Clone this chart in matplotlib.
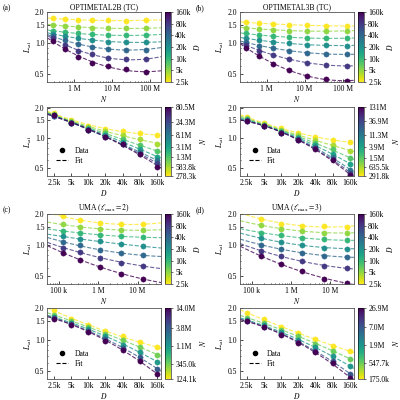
import numpy as np
import matplotlib
matplotlib.use("Agg")
import matplotlib.pyplot as plt
from matplotlib.colors import LogNorm
from matplotlib.ticker import FixedLocator, NullLocator, NullFormatter
from matplotlib.lines import Line2D
import matplotlib.cm as cm

plt.rcParams['font.family'] = ['Liberation Serif', 'DejaVu Serif']
plt.rcParams['mathtext.fontset'] = 'stix'
plt.rcParams['font.size'] = 5.5

D_vals = [2500, 5000, 10000, 20000, 40000, 80000, 160000]
D_labels = ["2.5k", "5k", "10k", "20k", "40k", "80k", "160k"]

# panel (a)
N_a = [278.3e3, 583.8e3, 1.3e6, 3.1e6, 8.1e6, 24.3e6, 80.5e6]
N_a_labels = ["278.3k", "583.8k", "1.3M", "3.1M", "8.1M", "24.3M", "80.5M"]
L_a = [  # rows: D, cols: N
    [1.75, 1.72, 1.70, 1.68, 1.67, 1.66, 1.68],
    [1.52, 1.47, 1.44, 1.42, 1.41, 1.40, 1.40],
    [1.33, 1.28, 1.25, 1.22, 1.20, 1.20, 1.20],
    [1.24, 1.17, 1.12, 1.08, 1.04, 1.03, 1.02],
    [1.17, 1.07, 0.98, 0.92, 0.88, 0.87, 0.87],
    [1.12, 0.97, 0.85, 0.78, 0.72, 0.70, 0.70],
    [1.06, 0.88, 0.74, 0.65, 0.60, 0.56, 0.52],
]
# panel (b)
N_b = [291.8e3, 635.5e3, 1.5e6, 3.9e6, 11.3e6, 36.9e6, 131e6]
N_b_labels = ["291.8k", "635.5k", "1.5M", "3.9M", "11.3M", "36.9M", "131M"]
L_b = [
    [1.60, 1.57, 1.55, 1.52, 1.50, 1.48, 1.48],
    [1.42, 1.38, 1.35, 1.33, 1.32, 1.32, 1.32],
    [1.25, 1.20, 1.17, 1.15, 1.13, 1.12, 1.12],
    [1.12, 1.07, 1.03, 1.00, 0.97, 0.96, 0.95],
    [1.02, 0.95, 0.90, 0.85, 0.81, 0.79, 0.78],
    [0.96, 0.85, 0.77, 0.70, 0.65, 0.62, 0.60],
    [0.91, 0.75, 0.63, 0.55, 0.48, 0.45, 0.43],
]
# panel (c)
N_c = [124.1e3, 345.0e3, 1.1e6, 3.8e6, 14.0e6]
N_c_labels = ["124.1k", "345.0k", "1.1M", "3.8M", "14.0M"]
L_c = [
    [1.92, 1.75, 1.65, 1.62, 1.60],
    [1.60, 1.50, 1.45, 1.42, 1.40],
    [1.38, 1.32, 1.27, 1.22, 1.20],
    [1.22, 1.15, 1.10, 1.02, 0.98],
    [1.08, 1.00, 0.90, 0.84, 0.80],
    [0.95, 0.86, 0.76, 0.68, 0.63],
    [0.85, 0.72, 0.62, 0.53, 0.47],
]
# panel (d)
N_d = [175.0e3, 547.7e3, 1.9e6, 7.0e6, 26.9e6]
N_d_labels = ["175.0k", "547.7k", "1.9M", "7.0M", "26.9M"]
L_d = [
    [1.82, 1.63, 1.55, 1.53, 1.52],
    [1.57, 1.45, 1.38, 1.33, 1.32],
    [1.33, 1.25, 1.18, 1.14, 1.12],
    [1.17, 1.08, 1.00, 0.95, 0.93],
    [1.01, 0.92, 0.85, 0.79, 0.77],
    [0.88, 0.79, 0.70, 0.63, 0.60],
    [0.78, 0.66, 0.56, 0.47, 0.43],
]

panels = [
    ("(a)", "OPTIMETAL2B (TC)", N_a, N_a_labels, L_a, (2e5, 2e8), [1e6, 1e7, 1e8], ["1 M", "10 M", "100 M"]),
    ("(b)", "OPTIMETAL3B (TC)", N_b, N_b_labels, L_b, (2e5, 2e8), [1e6, 1e7, 1e8], ["1 M", "10 M", "100 M"]),
    ("(c)", r"UMA ($\ell_{\max}=2$)", N_c, N_c_labels, L_c, (5e4, 4e7), [1e5, 1e6, 1e7], ["100 k", "1 M", "10 M"]),
    ("(d)", r"UMA ($\ell_{\max}=3$)", N_d, N_d_labels, L_d, (5e4, 4e7), [1e5, 1e6, 1e7], ["100 k", "1 M", "10 M"]),
]

fig = plt.figure(figsize=(4, 4), dpi=100)
cmap = plt.get_cmap('viridis_r')
xs = [0.118, 0.6]
W = 0.285
rows = [(0.795, 0.175, 0.56, 0.172), (0.29, 0.175, 0.052, 0.178)]
yticks = [0.5, 1.0, 1.5, 2.0]


def style_y(ax):
    ax.set_yscale('log')
    ax.set_ylim(0.42, 2.02)
    ax.yaxis.set_major_locator(FixedLocator(yticks))
    ax.set_yticklabels(["0.5", "1.0", "1.5", "2.0"])
    ax.yaxis.set_minor_formatter(NullFormatter())
    ax.set_ylabel(r"$L_{\rm val}$", labelpad=1)
    ax.tick_params(which='both', direction='in', length=2, width=0.5, pad=2)
    ax.tick_params(which='minor', length=1)
    for s in ax.spines.values():
        s.set_linewidth(0.6)
        s.set_color('#555555')


def plot_curves(ax, xvals, curves, cvals, norm, xlim):
    xf = np.logspace(np.log10(xlim[0]), np.log10(xlim[1]), 100)
    for c, y in zip(cvals, curves):
        col = cmap(norm(c))
        y = np.asarray(y)
        p = np.polyfit(np.log(xvals), np.log(y), 2)
        ax.plot(xf, np.exp(np.polyval(p, np.log(xf))), '--', color=col, lw=0.8, alpha=0.8)
        ax.errorbar(xvals, y, yerr=0.02 * y, fmt='o', ms=3.8, color=col,
                    mec=col, mew=0.3, elinewidth=0.5, capsize=1.4, capthick=0.5)
    ax.set_xlim(*xlim)


for i, (lab, title, N, Nlab, L, xlim_top, xt, xtl) in enumerate(panels):
    x0 = xs[i % 2]
    r = rows[i // 2]
    L = np.array(L)
    ax = fig.add_axes([x0, r[0], W, r[1]])
    normD = LogNorm(vmin=D_vals[0], vmax=D_vals[-1])
    plot_curves(ax, N, L, D_vals, normD, xlim_top)
    ax.set_xscale('log')
    ax.xaxis.set_major_locator(FixedLocator(xt))
    ax.set_xticklabels(xtl)
    ax.xaxis.set_minor_formatter(NullFormatter())
    style_y(ax)
    ax.set_xlabel(r"$N$", labelpad=1)
    ax.set_title(title, fontsize=5.5, pad=2)
    fig.text(x0 - 0.112, r[0] + r[1] + 0.004, lab, fontsize=5.5)
    cax = fig.add_axes([x0 + W + 0.01, r[0], 0.015, r[1]])
    cb = fig.colorbar(cm.ScalarMappable(norm=normD, cmap=cmap), cax=cax)
    cb.set_ticks(D_vals)
    cb.set_ticklabels(D_labels)
    cb.ax.yaxis.set_minor_locator(NullLocator())
    cb.ax.tick_params(length=1.5, width=0.4, labelsize=5.5, pad=1.5)
    cb.outline.set_linewidth(0.4)
    cb.set_label(r"$D$", labelpad=1)

    ax2 = fig.add_axes([x0, r[2], W, r[3]])
    normN = LogNorm(vmin=N[0], vmax=N[-1])
    plot_curves(ax2, D_vals, L.T, N, normN, (1.9e3, 1.9e5))
    ax2.set_xscale('log')
    ax2.xaxis.set_major_locator(FixedLocator(D_vals))
    ax2.set_xticklabels(D_labels)
    ax2.xaxis.set_minor_locator(NullLocator())
    style_y(ax2)
    ax2.set_xlabel(r"$D$", labelpad=1)
    h = [Line2D([], [], marker='o', color='black', ls='none', ms=3),
         Line2D([], [], color='black', ls='--', lw=0.8)]
    ax2.legend(h, ["Data", "Fit"], loc='lower left', frameon=False, fontsize=5.5,
               bbox_to_anchor=(0.03, 0.08), handlelength=1.6, borderpad=0.2, labelspacing=0.3)
    cax2 = fig.add_axes([x0 + W + 0.01, r[2], 0.015, r[3]])
    cb2 = fig.colorbar(cm.ScalarMappable(norm=normN, cmap=cmap), cax=cax2)
    cb2.set_ticks(N)
    cb2.set_ticklabels(Nlab)
    cb2.ax.yaxis.set_minor_locator(NullLocator())
    cb2.ax.tick_params(length=1.5, width=0.4, labelsize=5.5, pad=1.5)
    cb2.outline.set_linewidth(0.4)
    cb2.set_label(r"$N$", labelpad=1)

fig.savefig("out.png", dpi=100)
